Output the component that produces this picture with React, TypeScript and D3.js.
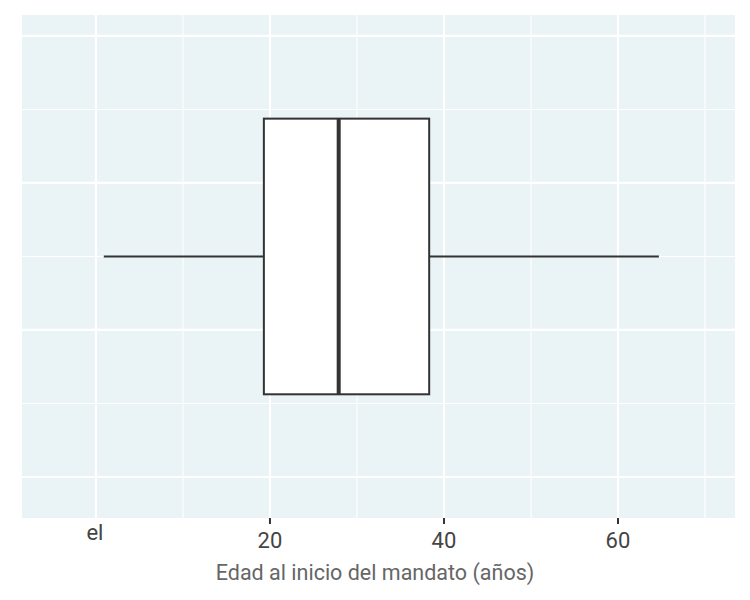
import React, { useEffect, useRef } from 'react';
import * as d3 from 'd3';

// box summary (age at start of term, years)
const boxStats = { min: 0.9, q1: 19.3, median: 27.9, q3: 38.3, max: 64.7 };
const xMajorTicks = [0, 20, 40, 60];
const xMinorTicks = [10, 30, 50, 70];
const xTickLabels = ['el', '20', '40', '60'];
const yMajorTicks = [-0.6, -0.2, 0.2, 0.6];
const yMinorTicks = [-0.4, 0, 0.4];
const xTitle = 'Edad al inicio del mandato (años)';

export default function App() {
  const svgRef = useRef<SVGSVGElement>(null);

  useEffect(() => {
    if (!svgRef.current) return;
    document.body.style.margin = '0';

    d3.select(svgRef.current).selectAll('*').remove();

    const panel = { left: 22, right: 735, top: 15, bottom: 518 };

    const svg = d3.select(svgRef.current)
      .attr('width', 750)
      .attr('height', 600);

    const x = d3.scaleLinear()
      .domain([-8.5, 73.45])
      .range([panel.left, panel.right]);

    const y = d3.scaleLinear()
      .domain([-0.7116, 0.657])
      .range([panel.bottom, panel.top]);

    // panel background
    svg.append('rect')
      .attr('x', panel.left)
      .attr('y', panel.top)
      .attr('width', panel.right - panel.left)
      .attr('height', panel.bottom - panel.top)
      .attr('fill', '#eaf3f5');

    // grid
    const grid = svg.append('g');
    grid.selectAll('.xminor')
      .data(xMinorTicks)
      .enter()
      .append('line')
      .attr('x1', d => x(d))
      .attr('x2', d => x(d))
      .attr('y1', panel.top)
      .attr('y2', panel.bottom)
      .attr('stroke', '#fff')
      .attr('stroke-width', 1.1);
    grid.selectAll('.yminor')
      .data(yMinorTicks)
      .enter()
      .append('line')
      .attr('x1', panel.left)
      .attr('x2', panel.right)
      .attr('y1', d => y(d))
      .attr('y2', d => y(d))
      .attr('stroke', '#fff')
      .attr('stroke-width', 1.1);
    grid.selectAll('.xmajor')
      .data(xMajorTicks)
      .enter()
      .append('line')
      .attr('x1', d => x(d))
      .attr('x2', d => x(d))
      .attr('y1', panel.top)
      .attr('y2', panel.bottom)
      .attr('stroke', '#fff')
      .attr('stroke-width', 2.2);
    grid.selectAll('.ymajor')
      .data(yMajorTicks)
      .enter()
      .append('line')
      .attr('x1', panel.left)
      .attr('x2', panel.right)
      .attr('y1', d => y(d))
      .attr('y2', d => y(d))
      .attr('stroke', '#fff')
      .attr('stroke-width', 2.2);

    // boxplot
    const box = svg.append('g').attr('stroke', '#333333').attr('fill', 'none');
    const half = 0.375;

    box.append('line')
      .attr('x1', x(boxStats.min))
      .attr('x2', x(boxStats.q1))
      .attr('y1', y(0))
      .attr('y2', y(0))
      .attr('stroke-width', 2);
    box.append('line')
      .attr('x1', x(boxStats.q3))
      .attr('x2', x(boxStats.max))
      .attr('y1', y(0))
      .attr('y2', y(0))
      .attr('stroke-width', 2);

    box.append('rect')
      .attr('x', x(boxStats.q1))
      .attr('y', y(half))
      .attr('width', x(boxStats.q3) - x(boxStats.q1))
      .attr('height', y(-half) - y(half))
      .attr('fill', '#ffffff')
      .attr('stroke-width', 2);

    box.append('line')
      .attr('x1', x(boxStats.median))
      .attr('x2', x(boxStats.median))
      .attr('y1', y(half))
      .attr('y2', y(-half))
      .attr('stroke-width', 4);

    // x axis: ticks (no tick under the "el" label)
    const axis = svg.append('g');
    axis.selectAll('.tick')
      .data(xMajorTicks.filter(d => d !== 0))
      .enter()
      .append('line')
      .attr('x1', d => x(d))
      .attr('x2', d => x(d))
      .attr('y1', panel.bottom)
      .attr('y2', panel.bottom + 6)
      .attr('stroke', '#333333')
      .attr('stroke-width', 2);

    axis.selectAll('.label')
      .data(xMajorTicks)
      .enter()
      .append('text')
      .attr('x', (d, i) => x(d) - (i === 0 ? 1 : 0))
      .attr('y', (d, i) => (i === 0 ? 540 : 548))
      .attr('text-anchor', 'middle')
      .attr('fill', '#444444')
      .style('font-family', 'Roboto, sans-serif')
      .style('font-size', '22px')
      .text((d, i) => xTickLabels[i]);

    svg.append('text')
      .attr('x', 375)
      .attr('y', 580)
      .attr('text-anchor', 'middle')
      .attr('fill', '#666666')
      .style('font-family', 'Roboto, sans-serif')
      .style('font-size', '21.5px')
      .text(xTitle);
  }, []);

  return <svg ref={svgRef} style={{ display: 'block' }}></svg>;
}
